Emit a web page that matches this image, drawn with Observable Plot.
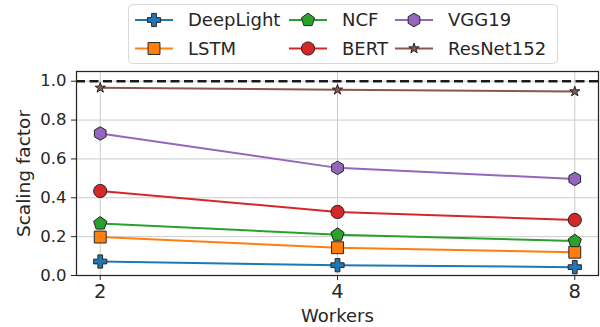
<!DOCTYPE html>
<html>
<head>
<meta charset="utf-8">
<script src="https://cdn.jsdelivr.net/npm/d3@7"></script>
<script src="https://cdn.jsdelivr.net/npm/@observablehq/plot@0.6"></script>
<style>
  html, body { margin: 0; padding: 0; background: #fff; }
  #chart { width: 600px; height: 327px; }
</style>
</head>
<body>
<div id="chart"></div>
<script>
// Scaling factor of each model vs. number of workers
const workers = [2, 4, 8];
const models = ["DeepLight", "LSTM", "NCF", "BERT", "VGG19", "ResNet152"];
const deepLight = [0.072, 0.053, 0.043];
const lstm      = [0.198, 0.143, 0.120];
const ncf       = [0.268, 0.210, 0.177];
const bert      = [0.435, 0.327, 0.286];
const vgg19     = [0.731, 0.554, 0.497];
const resnet152 = [0.966, 0.956, 0.947];
const seriesValues = [deepLight, lstm, ncf, bert, vgg19, resnet152];
const yTicks = [0, 0.2, 0.4, 0.6, 0.8, 1.0];
const idealScaling = 1.0;

const colors = ["#1f77b4", "#ff7f0e", "#2ca02c", "#d62728", "#9467bd", "#8c564b"];

// Marker shapes (symbol objects understood by Plot and d3.symbol)
function polygon(points) {
  return (ctx) => {
    points.forEach(([x, y], i) => (i ? ctx.lineTo(x, y) : ctx.moveTo(x, y)));
    ctx.closePath();
  };
}
function regular(n, radius, rot = -Math.PI / 2) {
  return d3.range(n).map(i => {
    const a = rot + (2 * Math.PI * i) / n;
    return [radius * Math.cos(a), radius * Math.sin(a)];
  });
}
const rOf = size => Math.sqrt(size / Math.PI);
const plusFilled = {
  draw(ctx, size) {
    const R = rOf(size) * 1.0, w = R * 0.36;
    polygon([[-w, -R], [w, -R], [w, -w], [R, -w], [R, w], [w, w], [w, R], [-w, R], [-w, w], [-R, w], [-R, -w], [-w, -w]])(ctx);
  }
};
const squareSym = {
  draw(ctx, size) {
    const h = rOf(size) * 0.9;
    polygon([[-h, -h], [h, -h], [h, h], [-h, h]])(ctx);
  }
};
const pentagonSym = {
  draw(ctx, size) { polygon(regular(5, rOf(size) * 1.05))(ctx); }
};
const circleSym = {
  draw(ctx, size) { const R = rOf(size); ctx.moveTo(R, 0); ctx.arc(0, 0, R, 0, 2 * Math.PI); }
};
const hexagonSym = {
  draw(ctx, size) { polygon(regular(6, rOf(size) * 1.02))(ctx); }
};
const starSym = {
  draw(ctx, size) {
    const R = rOf(size) * 0.82, r = R * 0.382;
    const pts = d3.range(10).map(i => {
      const a = -Math.PI / 2 + (Math.PI * i) / 5;
      const rr = i % 2 ? r : R;
      return [rr * Math.cos(a), rr * Math.sin(a)];
    });
    polygon(pts)(ctx);
  }
};
const symbols = [plusFilled, squareSym, pentagonSym, circleSym, hexagonSym, starSym];

const rows = models.flatMap((model, i) =>
  workers.map((w, j) => ({model, workers: w, value: seriesValues[i][j]}))
);

const markR = 6.6;
const seriesMarks = models.flatMap((model, i) => {
  const data = rows.filter(d => d.model === model);
  return [
    Plot.line(data, {x: "workers", y: "value", stroke: colors[i], strokeWidth: 2}),
    Plot.dot(data, {x: "workers", y: "value", symbol: symbols[i], r: markR,
                    fill: colors[i], stroke: "#262626", strokeWidth: 1})
  ];
});

const svg = Plot.plot({
  width: 600,
  height: 327,
  marginTop: 71,
  marginRight: 2,
  marginBottom: 52,
  marginLeft: 76,
  style: {fontFamily: "DejaVu Sans", color: "#262626", background: "#fff", overflow: "visible"},
  x: {type: "log", base: 2, domain: [Math.pow(2, 0.9), Math.pow(2, 3.1)]},
  y: {domain: [0, 1.05]},
  marks: [
    Plot.gridX(workers, {stroke: "#cccccc", strokeOpacity: 1, strokeWidth: 1}),
    Plot.gridY(yTicks, {stroke: "#cccccc", strokeOpacity: 1, strokeWidth: 1}),
    Plot.axisX(workers, {tickSize: 5, tickPadding: 4, fontSize: 19.5, tickFormat: d => String(d), label: null, stroke: "#262626"}),
    Plot.axisY(yTicks, {tickSize: 5, tickPadding: 5, fontSize: 16.5, tickFormat: d3.format(".1f"), label: null, stroke: "#262626"}),
    Plot.ruleY([idealScaling], {stroke: "#1a1a1a", strokeWidth: 2.5, strokeDasharray: "9,4.5"}),
    ...seriesMarks,
    Plot.frame({stroke: "#262626", strokeWidth: 1.25}),
    Plot.text(["Workers"], {frameAnchor: "bottom", dy: 41, lineAnchor: "middle", fontSize: 18, fill: "#262626"}),
    Plot.text(["Scaling factor"], {frameAnchor: "left", dx: -52, rotate: -90, textAnchor: "middle", fontSize: 18.5, fill: "#262626"})
  ]
});

// Legend: three columns, two rows, framed box above the plot
const legend = d3.select(svg).append("g")
  .attr("font-family", "DejaVu Sans").attr("font-size", 18).attr("text-anchor", "start");
legend.append("rect")
  .attr("x", 128.5).attr("y", 4.5).attr("width", 429).attr("height", 59)
  .attr("rx", 4).attr("fill", "#fff").attr("fill-opacity", 0.8)
  .attr("stroke", "#d9d9d9").attr("stroke-width", 1);
const colX = [135, 289, 395];
const rowY = [20, 48.5];
models.forEach((m, i) => {
  const col = Math.floor(i / 2), row = i % 2;
  const x0 = colX[col], y = rowY[row];
  const g = legend.append("g");
  g.append("line").attr("x1", x0).attr("x2", x0 + 38).attr("y1", y).attr("y2", y)
    .attr("stroke", colors[i]).attr("stroke-width", 2);
  g.append("path")
    .attr("transform", `translate(${x0 + 19},${y})`)
    .attr("d", d3.symbol(symbols[i], markR * markR * Math.PI)())
    .attr("fill", colors[i]).attr("stroke", "#262626").attr("stroke-width", 1);
  g.append("text").attr("x", x0 + 53).attr("y", y).attr("dy", "0.35em")
    .attr("text-anchor", "start").attr("fill", "#262626").text(m);
});

document.getElementById("chart").appendChild(svg);
</script>
</body>
</html>
